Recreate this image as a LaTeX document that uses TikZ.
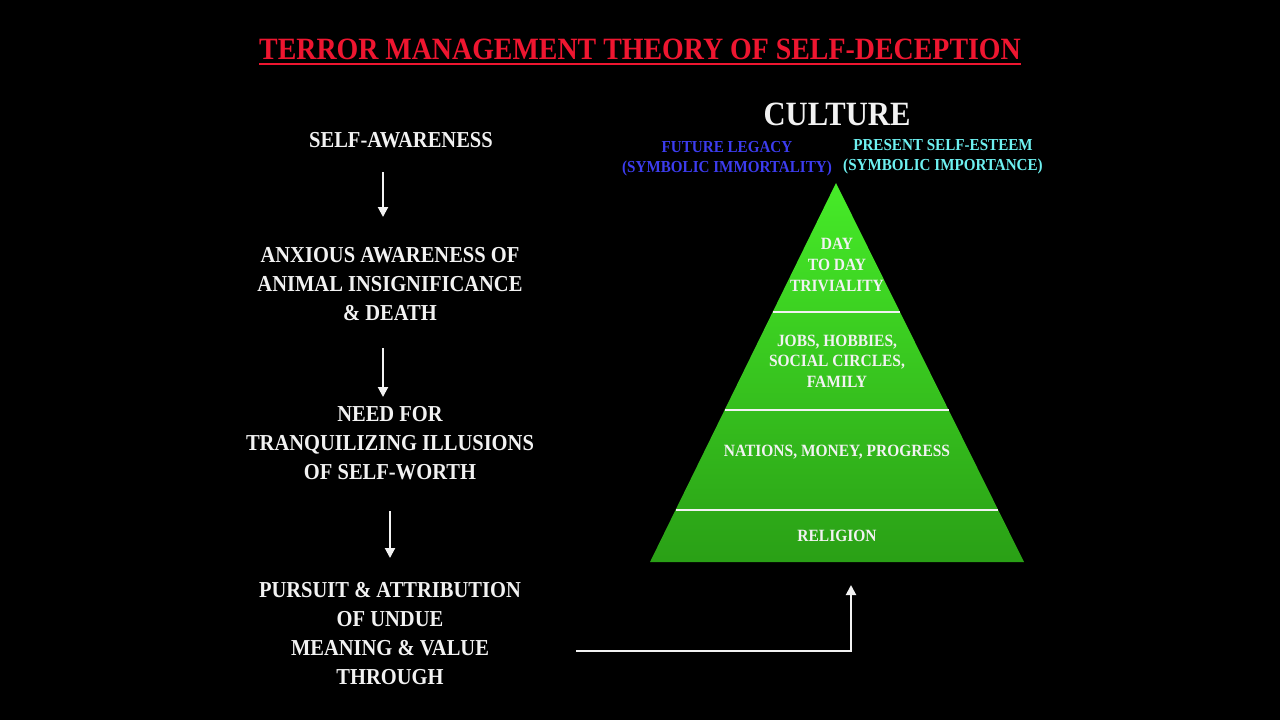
\documentclass[tikz,border=0pt]{standalone}
\usepackage{fontspec}
\setmainfont{Liberation Serif}[FakeStretch=0.9]
\usetikzlibrary{arrows.meta,calc}
\definecolor{ttl}{RGB}{238,22,48}
\definecolor{fut}{RGB}{60,60,238}
\definecolor{pres}{RGB}{110,240,240}
\definecolor{gtop}{RGB}{70,235,40}
\definecolor{gbot}{RGB}{42,160,22}
\definecolor{txt}{RGB}{242,242,242}
\begin{document}
\begin{tikzpicture}[x=0.5pt,y=-0.5pt,
  every node/.style={inner sep=0pt,outer sep=0pt,text=txt,font=\bfseries},
  lefttxt/.style={align=center,font=\bfseries\fontsize{11.4}{14.5}\selectfont},
  pyrtxt/.style={align=center,font=\bfseries\fontsize{8.6}{10.3}\selectfont},
  captxt/.style={align=center,font=\bfseries\fontsize{8.4}{10}\selectfont},
  arr/.style={draw=txt,line width=1pt,-{Triangle[width=5pt,length=5pt]}},
  tier/.style={draw=txt,line width=1pt}]
\fill[black] (0,0) rectangle (1280,720);
\useasboundingbox (0,0) rectangle (1280,720);
% title
\node[text=ttl,font=\bfseries\fontsize{15.5}{17}\selectfont] (title) at (640,49) {TERROR MANAGEMENT THEORY OF SELF-DECEPTION};
\draw[ttl,line width=1pt] ([yshift=-2.2pt]title.south west) -- ([yshift=-2.2pt]title.south east);
% left chain
\node[lefttxt] (sa) at (401,140) {SELF-AWARENESS};
\node[lefttxt] (anx) at (390,284) {ANXIOUS AWARENESS OF\\ANIMAL INSIGNIFICANCE\\\& DEATH};
\node[lefttxt] (need) at (390,443) {NEED FOR\\TRANQUILIZING ILLUSIONS\\OF SELF-WORTH};
\node[lefttxt] (pur) at (390,634) {PURSUIT \& ATTRIBUTION\\OF UNDUE\\MEANING \& VALUE\\THROUGH};
\coordinate (ax1) at (383,0);
\coordinate (ax2) at (390,0);
\draw[arr] ($(sa.center -| ax1)+(0,32)$) -- ($(anx.center -| ax1)+(0,-67)$);
\draw[arr] ($(anx.center -| ax1)+(0,64)$) -- ($(need.center -| ax1)+(0,-46)$);
\draw[arr] ($(need.center -| ax2)+(0,68)$) -- ($(pur.center -| ax2)+(0,-76)$);
% culture header
\node[font=\bfseries\fontsize{17}{19}\selectfont] (cult) at (837,114) {CULTURE};
\node[captxt,text=fut] (fut) at (727,159) {FUTURE LEGACY\\(SYMBOLIC IMMORTALITY)};
\node[captxt,text=pres] (pres) at (943,157) {PRESENT SELF-ESTEEM\\(SYMBOLIC IMPORTANCE)};
% pyramid
\coordinate (apex) at (836,183);
\coordinate (bl) at (650,562);
\coordinate (br) at (1024,562);
\shade[top color=gtop,bottom color=gbot] (apex) -- (bl) -- (br) -- cycle;
\draw[tier] ($(apex)!0.3404!(bl)$) -- ($(apex)!0.3404!(br)$);
\draw[tier] ($(apex)!0.599!(bl)$) -- ($(apex)!0.599!(br)$);
\draw[tier] ($(apex)!0.8628!(bl)$) -- ($(apex)!0.8628!(br)$);
\node[pyrtxt] (t1) at (837,265) {DAY\\TO DAY\\TRIVIALITY};
\node[pyrtxt] (t2) at (837,361) {JOBS, HOBBIES,\\SOCIAL CIRCLES,\\FAMILY};
\node[pyrtxt] (t3) at (837,452) {NATIONS, MONEY, PROGRESS};
\node[pyrtxt] (t4) at (837,536) {RELIGION};
% bottom connector
\coordinate (c1) at (576,651);
\coordinate (pbR) at (851,562);
\draw[arr] (c1) -| ($(pbR)+(0,23)$);
\end{tikzpicture}
\end{document}
